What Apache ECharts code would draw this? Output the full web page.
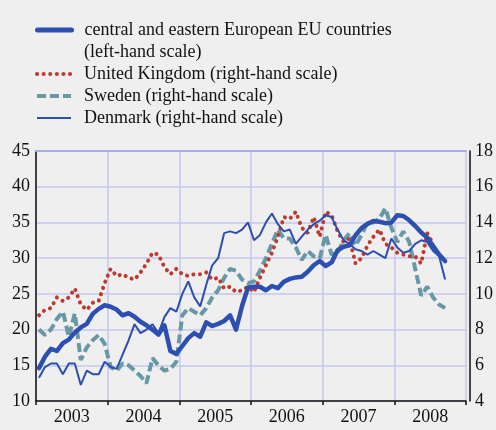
<!DOCTYPE html>
<html>
<head>
<meta charset="utf-8">
<script src="https://cdn.jsdelivr.net/npm/echarts@6/dist/echarts.min.js"></script>
<style>
  html, body { margin: 0; padding: 0; background: #efefef; }
  #chart { width: 496px; height: 430px; }
</style>
</head>
<body>
<div id="chart"></div>
<script>
// x axis: one category per year, monthly series start in January 2003
var years = ['2003', '2004', '2005', '2006', '2007', '2008'];
var monthsPerYear = 12;

// left-hand scale
var ceeValues = [
  14.6, 16.2, 17.3, 17.0, 18.1, 18.6, 19.6, 20.3, 20.8, 22.2, 22.9, 23.4,
  23.2, 22.8, 22.0, 22.3, 21.8, 21.1, 20.6, 20.0, 19.3, 20.6, 17.0, 16.6,
  17.7, 18.8, 19.5, 19.0, 21.0, 20.5, 20.8, 21.2, 22.0, 20.0, 23.3, 25.9,
  26.0, 26.0, 25.5, 26.1, 25.8, 26.7, 27.1, 27.3, 27.4, 28.1, 29.0, 29.6,
  28.9, 29.4, 31.1, 31.6, 31.8, 33.2, 34.2, 34.8, 35.2, 35.1, 34.9, 35.0,
  36.0, 35.9, 35.3, 34.5, 33.6, 32.9, 31.7, 30.5, 29.6
];
// right-hand scale
var ukValues = [
  8.8, 9.1, 9.2, 9.8, 9.6, 9.8, 10.3, 9.4, 9.1, 9.5, 9.6, 10.6,
  11.4, 11.0, 11.1, 10.9, 10.8, 11.2, 11.7, 12.3, 12.2, 11.5, 11.1, 11.4,
  11.1, 11.0, 11.1, 11.1, 11.2, 10.8, 10.9, 10.3, 10.4, 10.1, 10.2, 10.4,
  10.1, 10.9, 11.6, 12.3, 13.2, 14.3, 14.2, 14.6, 13.7, 13.4, 14.3, 13.2,
  14.6, 14.4, 13.5, 12.9, 13.1, 11.7, 12.0, 12.7, 13.2, 13.6, 12.8, 12.6,
  12.3, 12.2, 12.1, 12.1, 11.7, 13.4, 12.8
];
var swedenValues = [
  8.0, 7.7, 8.0, 8.6, 9.0, 7.6, 8.9, 6.3, 7.0, 7.4, 7.7, 7.2,
  5.9, 5.7, 6.1, 6.0, 5.7, 5.4, 5.0, 6.4, 6.0, 5.7, 5.8, 6.2,
  8.8, 9.2, 9.0, 8.8, 9.2, 9.8, 10.2, 10.9, 11.4, 11.3, 10.8, 10.6,
  10.7, 11.3, 12.0, 12.8, 13.6, 13.1, 13.1, 12.6, 11.9, 12.4, 12.1, 12.0,
  13.3, 12.2, 12.3, 13.0, 13.4, 12.7, 13.3, 14.0, 14.0, 14.2, 14.8, 13.7,
  12.9, 13.5, 12.9, 11.4, 9.9, 10.4, 9.8, 9.4, 9.2
];
var denmarkValues = [
  5.3, 5.9, 6.1, 6.1, 5.5, 6.1, 6.1, 4.9, 5.7, 5.5, 5.5, 6.2,
  5.9, 5.8, 6.6, 7.4, 8.3, 7.8, 8.0, 8.3, 7.8, 8.7, 9.2, 9.0,
  10.0, 10.7, 9.8, 9.3, 10.5, 11.6, 12.0, 13.4, 13.5, 13.4, 13.6, 14.0,
  13.0, 13.3, 14.0, 14.5, 13.9, 13.5, 13.6, 12.8, 13.2, 13.6, 13.9, 14.1,
  14.4, 14.3, 13.6, 13.0, 12.8, 12.5, 12.4, 12.2, 12.4, 12.2, 12.0, 13.1,
  12.6, 12.3, 12.4, 12.8, 13.0, 12.9, 12.4, 12.1, 10.8
];

var leftTicks = { min: 10, max: 45, interval: 5 };
var rightTicks = { min: 4, max: 18, interval: 2 };

var nameCEE = 'central and eastern European EU countries';
var nameUK = 'United Kingdom (right-hand scale)';
var nameSE = 'Sweden (right-hand scale)';
var nameDK = 'Denmark (right-hand scale)';

// monthly points sit in the middle of each month
function toPoints(values) {
  return values.map(function (v, i) { return [i + 0.5, v]; });
}

var serif = '"Liberation Serif", "DejaVu Serif", serif';
var gridColor = '#c6c9ec';
var ink = '#111111';
var noMarker = { color: 'rgba(0,0,0,0)', borderColor: 'rgba(0,0,0,0)', borderWidth: 0, opacity: 0 };

var myChart = echarts.init(document.getElementById('chart'), null, { renderer: 'canvas' });

var legendText = {
  fontFamily: serif,
  fontSize: 18,
  color: ink,
  padding: [0, 0, 0, 8]
};

var option = {
  backgroundColor: '#efefef',
  animation: false,
  textStyle: { fontFamily: serif },
  legend: [
    {
      orient: 'vertical',
      left: 35,
      top: 21,
      padding: 0,
      itemWidth: 34,
      itemHeight: 18,
      selectedMode: false,
      textStyle: legendText,
      data: [{ name: nameCEE, lineStyle: { width: 5 }, itemStyle: noMarker }]
    },
    {
      orient: 'vertical',
      left: 35,
      top: 65,
      padding: 0,
      itemWidth: 34,
      itemHeight: 18,
      itemGap: 4,
      selectedMode: false,
      textStyle: legendText,
      data: [
        { name: nameUK, lineStyle: { width: 4 }, itemStyle: noMarker },
        { name: nameSE, lineStyle: { width: 4 }, itemStyle: noMarker },
        { name: nameDK, lineStyle: { width: 2 }, itemStyle: noMarker }
      ]
    }
  ],
  graphic: [
    {
      type: 'text',
      left: 84,
      top: 43,
      style: {
        text: '(left-hand scale)',
        font: '18px ' + serif,
        fill: ink
      }
    }
  ],
  grid: {
    left: 36,
    right: 27,
    top: 151,
    bottom: 29,
    containLabel: false
  },
  xAxis: [
    {
      type: 'category',
      data: years,
      boundaryGap: true,
      position: 'bottom',
      axisLine: { show: true, lineStyle: { color: ink, width: 1.5 } },
      axisTick: { show: true, inside: false, length: 4, lineStyle: { color: ink, width: 1.5 } },
      axisLabel: { color: ink, fontFamily: serif, fontSize: 18, margin: 7 },
      splitLine: { show: true, lineStyle: { color: gridColor, width: 1.5 } }
    },
    {
      // monthly positions for the data, hidden; its line is the darker top border
      type: 'value',
      min: 0,
      max: years.length * monthsPerYear,
      position: 'top',
      axisLine: { show: true, lineStyle: { color: '#a9aee2', width: 2 } },
      axisTick: { show: false },
      axisLabel: { show: false },
      splitLine: { show: false }
    }
  ],
  yAxis: [
    {
      type: 'value',
      position: 'left',
      min: leftTicks.min,
      max: leftTicks.max,
      interval: leftTicks.interval,
      axisLine: { show: true, lineStyle: { color: ink, width: 1.5 } },
      axisTick: { show: false },
      axisLabel: { color: ink, fontFamily: serif, fontSize: 18, margin: 6 },
      splitLine: { show: true, lineStyle: { color: gridColor, width: 1.5 } }
    },
    {
      type: 'value',
      position: 'right',
      offset: 4,
      min: rightTicks.min,
      max: rightTicks.max,
      interval: rightTicks.interval,
      axisLine: { show: true, lineStyle: { color: ink, width: 1.5 } },
      axisTick: { show: false },
      axisLabel: { color: ink, fontFamily: serif, fontSize: 18, margin: 5 },
      splitLine: { show: false }
    }
  ],
  series: [
    {
      name: nameSE,
      type: 'line',
      xAxisIndex: 1,
      yAxisIndex: 1,
      symbol: 'none',
      data: toPoints(swedenValues),
      lineStyle: { color: '#6898a6', width: 4, type: [9, 4] },
      itemStyle: { color: '#6898a6' }
    },
    {
      name: nameUK,
      type: 'line',
      xAxisIndex: 1,
      yAxisIndex: 1,
      symbol: 'none',
      data: toPoints(ukValues),
      lineStyle: { color: '#c0392e', width: 4, type: [0.1, 6.5], cap: 'round' },
      itemStyle: { color: '#c0392e' }
    },
    {
      name: nameDK,
      type: 'line',
      xAxisIndex: 1,
      yAxisIndex: 1,
      symbol: 'none',
      data: toPoints(denmarkValues),
      lineStyle: { color: '#2c4fae', width: 2 },
      itemStyle: { color: '#2c4fae' }
    },
    {
      name: nameCEE,
      type: 'line',
      xAxisIndex: 1,
      yAxisIndex: 0,
      symbol: 'none',
      data: toPoints(ceeValues),
      lineStyle: { color: '#2d4fb0', width: 4.5, join: 'round', cap: 'round' },
      itemStyle: { color: '#2d4fb0' }
    }
  ]
};

myChart.setOption(option);
</script>
</body>
</html>
